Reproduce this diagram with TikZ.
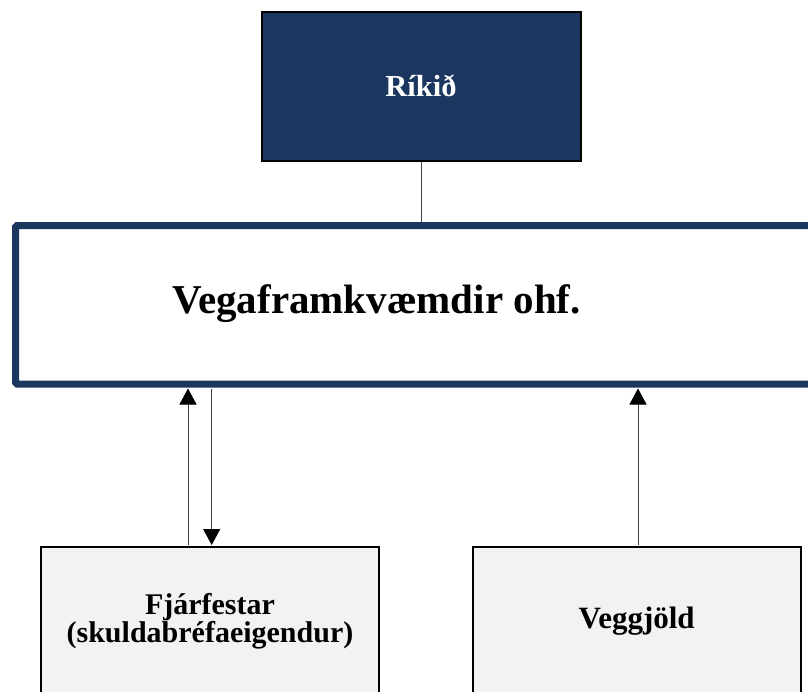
\documentclass[tikz,border=0pt]{standalone}
\usepackage{fontspec}
\setmainfont{Liberation Serif}
\usetikzlibrary{arrows.meta}
\definecolor{navy}{HTML}{1B365F}
\definecolor{lightgrey}{HTML}{F2F2F2}
\tikzset{
  boxbase/.style={rectangle, inner sep=0pt, align=center, font=\bfseries},
  topbox/.style={boxbase, draw=black, line width=2pt, fill=navy, text=white},
  mainbox/.style={boxbase, draw=navy, line width=7pt, rounded corners=1.5pt, fill=white},
  lowbox/.style={boxbase, draw=black, line width=2pt, fill=lightgrey},
  conn/.style={line width=0.9pt, draw=black!75},
  arr/.style={conn, -{Triangle[width=17pt,length=16pt,fill=black,color=black]}}
}
\begin{document}
\begin{tikzpicture}[x=1pt,y=-1pt]
\useasboundingbox (0,0) rectangle (808,691);
\clip (0,0) rectangle (808,691);
\fill[white] (0,0) rectangle (808,691);
% top box
\node[topbox, minimum width=319pt, minimum height=149pt] (rikid) at (421,86)
  {\fontsize{30.5}{33}\selectfont Ríkið};
% main box
\node[mainbox, minimum width=811.5pt, minimum height=158.5pt] (veg) at (421.25,304.75) {};
\node[boxbase] (vegtxt) at (376.5,304) {\fontsize{41}{46}\selectfont Vegaframkvæmdir ohf.};
% lower boxes
\node[lowbox, minimum width=338pt, minimum height=148pt] (fj) at (210,621)
  {\fontsize{30}{30}\selectfont Fjárfestar\\\fontsize{30}{30}\selectfont (skuldabréfaeigendur)};
\node[lowbox, minimum width=328pt, minimum height=148pt] (vg) at (636.7,621)
  {\fontsize{31}{34}\selectfont Veggjöld};
% arrow end points
\coordinate (vegb) at ([yshift=-1pt]veg.south);
\coordinate (fjA) at ([xshift=-22pt,yshift=1pt]fj.north);
\coordinate (fjB) at ([xshift=1.7pt,yshift=1pt]fj.north);
\coordinate (vgA) at ([xshift=1.3pt,yshift=1pt]vg.north);
% connectors
\draw[conn] (rikid.south) -- (rikid.south |- veg.north);
\draw[arr] (fjA) -- (fjA |- vegb);
\draw[arr] (fjB |- vegb) -- (fjB);
\draw[arr] (vgA) -- (vgA |- vegb);
\end{tikzpicture}
\end{document}
